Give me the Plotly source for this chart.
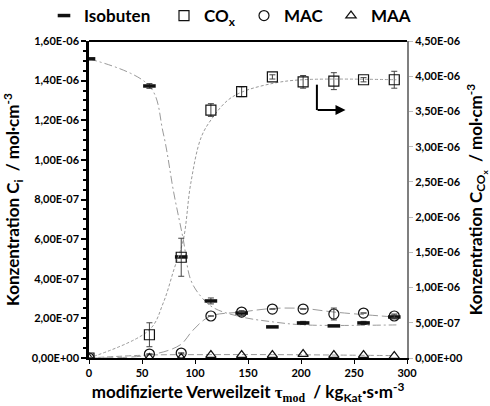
import plotly.graph_objects as go

# modified residence time tau_mod / kg_Kat*s*m^-3
TAU = [0, 57, 87, 115, 144, 173, 202, 231, 259, 288]

# measured concentrations / mol*cm^-3
ISOBUTEN = [1.51e-6, 1.373e-6, 0.51e-6, 0.288e-6, 0.227e-6, 0.157e-6, 0.177e-6, 0.162e-6, 0.177e-6, 0.207e-6]
ISOBUTEN_ERR = [0, 0.012e-6, 0, 0.015e-6, 0.012e-6, 0, 0.008e-6, 0, 0.008e-6, 0.01e-6]
COX = [0, 0.33e-6, 1.43e-6, 3.52e-6, 3.78e-6, 3.99e-6, 3.92e-6, 3.93e-6, 3.95e-6, 3.95e-6]
COX_ERR = [0, 0.17e-6, 0.27e-6, 0.09e-6, 0.07e-6, 0.03e-6, 0.09e-6, 0.12e-6, 0.03e-6, 0.12e-6]
MAC = [0, 0.02e-6, 0.025e-6, 0.212e-6, 0.232e-6, 0.247e-6, 0.247e-6, 0.222e-6, 0.227e-6, 0.212e-6]
MAC_ERR = [0, 0, 0, 0, 0, 0, 0, 0.03e-6, 0, 0.01e-6]
MAA = [0, 0.0, 0.0, 0.015e-6, 0.015e-6, 0.015e-6, 0.02e-6, 0.015e-6, 0.015e-6, 0.01e-6]

# model curves (support points)
ISO_FIT_X = [0, 57, 70, 80, 89, 96, 106, 118, 144, 174, 203, 290]
ISO_FIT_Y = [1.51e-6, 1.373e-6, 1.136e-6, 0.833e-6, 0.596e-6, 0.394e-6, 0.308e-6, 0.252e-6, 0.207e-6, 0.182e-6, 0.167e-6, 0.167e-6]
COX_FIT_X = [0, 57, 70, 80, 89, 96, 106, 117, 131, 145, 174, 201, 290]
COX_FIT_Y = [0, 0.40e-6, 0.78e-6, 1.25e-6, 1.68e-6, 2.48e-6, 3.14e-6, 3.42e-6, 3.66e-6, 3.78e-6, 3.90e-6, 3.95e-6, 3.95e-6]
MAC_FIT_X = [0, 57, 86, 98, 114, 144, 173, 202, 231, 288]
MAC_FIT_Y = [0, 0.015e-6, 0.066e-6, 0.14e-6, 0.21e-6, 0.232e-6, 0.25e-6, 0.25e-6, 0.232e-6, 0.207e-6]
MAA_FIT_X = [0, 57, 115, 173, 231, 288]
MAA_FIT_Y = [0, 0.015e-6, 0.017e-6, 0.017e-6, 0.015e-6, 0.012e-6]

# axis ticks
Y_TICKS = [i * 0.2e-6 for i in range(9)]
Y_LABELS = ["0,00E+00", "2,00E-07", "4,00E-07", "6,00E-07", "8,00E-07",
            "1,00E-06", "1,20E-06", "1,40E-06", "1,60E-06"]
Y2_TICKS = [i * 0.5e-6 for i in range(10)]
Y2_LABELS = ["0,00E+00", "5,00E-07", "1,00E-06", "1,50E-06", "2,00E-06",
             "2,50E-06", "3,00E-06", "3,50E-06", "4,00E-06", "4,50E-06"]
X_TICKS = [0, 50, 100, 150, 200, 250, 300]

FONT = "Lato, 'Open Sans', Arial, sans-serif"
GREY = "#9a9a9a"
INK = "#111111"
W, H = 490, 406
ML, MR, MT, MB = 89, 83, 41, 48
PW, PH = W - ML - MR, H - MT - MB

fig = go.Figure()

# model curves
fig.add_trace(go.Scatter(x=ISO_FIT_X, y=ISO_FIT_Y, mode="lines", line_shape="spline",
                         line=dict(color=GREY, width=1, dash="8px,3px,2px,3px"),
                         showlegend=False, hoverinfo="skip"))
fig.add_trace(go.Scatter(x=MAC_FIT_X, y=MAC_FIT_Y, mode="lines", line_shape="spline",
                         line=dict(color=GREY, width=1, dash="10px,4px"),
                         showlegend=False, hoverinfo="skip"))
fig.add_trace(go.Scatter(x=MAA_FIT_X, y=MAA_FIT_Y, mode="lines", line_shape="spline",
                         line=dict(color=GREY, width=1, dash="6px,3px"),
                         showlegend=False, hoverinfo="skip"))
fig.add_trace(go.Scatter(x=COX_FIT_X, y=COX_FIT_Y, mode="lines", line_shape="spline",
                         line=dict(color=GREY, width=1, dash="3px,2px"),
                         yaxis="y2", showlegend=False, hoverinfo="skip"))

err_style = dict(type="data", color="#444", thickness=1, width=3)

# measured points, each with its own legend box
fig.add_trace(go.Scatter(x=TAU, y=ISOBUTEN, mode="markers", name="Isobuten", legend="legend",
                         error_y=dict(array=ISOBUTEN_ERR, **err_style),
                         marker=dict(symbol="line-ew-open", size=9, color=INK,
                                     line=dict(color=INK, width=3.5))))
fig.add_trace(go.Scatter(x=TAU, y=COX, mode="markers", name="CO<sub>x</sub>", yaxis="y2",
                         legend="legend2",
                         error_y=dict(array=COX_ERR, **err_style),
                         marker=dict(symbol="square-open", size=10, color=INK,
                                     line=dict(color=INK, width=1.2))))
fig.add_trace(go.Scatter(x=TAU, y=MAC, mode="markers", name="MAC", legend="legend3",
                         error_y=dict(array=MAC_ERR, **err_style),
                         marker=dict(symbol="circle-open", size=10, color=INK,
                                     line=dict(color=INK, width=1.2))))
fig.add_trace(go.Scatter(x=TAU, y=MAA, mode="markers", name="MAA", legend="legend4",
                         marker=dict(symbol="triangle-up-open", size=9, color=INK,
                                     line=dict(color=INK, width=1.2))))

# arrow pointing to the right-hand axis
fig.add_shape(type="line", xref="x", yref="y2", x0=215, x1=215, y0=3.88e-6, y1=3.52e-6,
              line=dict(color="black", width=2))
fig.add_annotation(x=242, y=3.52e-6, ax=214.3, ay=3.52e-6, xref="x", yref="y2",
                   axref="x", ayref="y2", showarrow=True, arrowhead=2, arrowsize=1,
                   arrowwidth=2, arrowcolor="black", text="")

# frame line on top
fig.add_shape(type="line", xref="paper", yref="paper", x0=0, x1=1, y0=1, y1=1,
              line=dict(color="black", width=2))


def legend_box(left_px):
    return dict(orientation="h", x=(left_px - ML) / PW, xanchor="left", xref="paper",
                y=1 + (MT + 2) / PH, yanchor="top", yref="paper",
                font=dict(size=17, family=FONT, weight="bold"),
                itemwidth=30, bgcolor="rgba(0,0,0,0)")


fig.update_layout(
    width=W, height=H,
    margin=dict(l=ML, r=MR, t=MT, b=MB, autoexpand=False),
    paper_bgcolor="white", plot_bgcolor="white",
    font=dict(family=FONT, size=11, color="black"),
    showlegend=True,
    legend=legend_box(44),
    legend2=legend_box(164),
    legend3=legend_box(244),
    legend4=legend_box(331),
    xaxis=dict(range=[0, 300], tickvals=X_TICKS, showgrid=False, zeroline=False,
               showline=True, linecolor="black", linewidth=2, automargin=False,
               ticks="outside", ticklen=4, tickcolor="black",
               tickfont=dict(size=11, weight="bold"),
               title=dict(text="modifizierte Verweilzeit <span style='font-family:Liberation Serif'>τ<sub>mod</sub></span>  / kg<sub>Kat</sub>·s·m<sup>-3</sup>",
                          font=dict(size=17, weight="bold"), standoff=8)),
    yaxis=dict(range=[0, 1.6e-6], tickvals=Y_TICKS, ticktext=Y_LABELS, showgrid=False,
               zeroline=False, showline=True, linecolor="black", linewidth=2.5,
               automargin=False,
               ticks="outside", ticklen=5, tickcolor="black", tickwidth=2,
               minor=dict(ticks="outside", ticklen=3, dtick=0.05e-6, tickcolor="black", tickwidth=1.5),
               tickfont=dict(size=11, weight="bold"),
               title=dict(text="Konzentration C<sub>i</sub>  / mol·cm<sup>-3</sup>",
                          font=dict(size=17, weight="bold"), standoff=8)),
    yaxis2=dict(range=[0, 4.5e-6], tickvals=Y2_TICKS, ticktext=Y2_LABELS, overlaying="y",
                side="right", showgrid=False, zeroline=False, showline=True,
                automargin=False,
                linecolor="#7f7f7f", linewidth=2, ticks="outside", ticklen=4,
                tickcolor="#bbbbbb",
                tickfont=dict(size=11, weight="bold"),
                title=dict(text="Konzentration C<sub>CO<sub>x</sub></sub>  / mol·cm<sup>-3</sup>",
                           font=dict(size=17, weight="bold"), standoff=12)),
)

fig.write_html("out.html")
